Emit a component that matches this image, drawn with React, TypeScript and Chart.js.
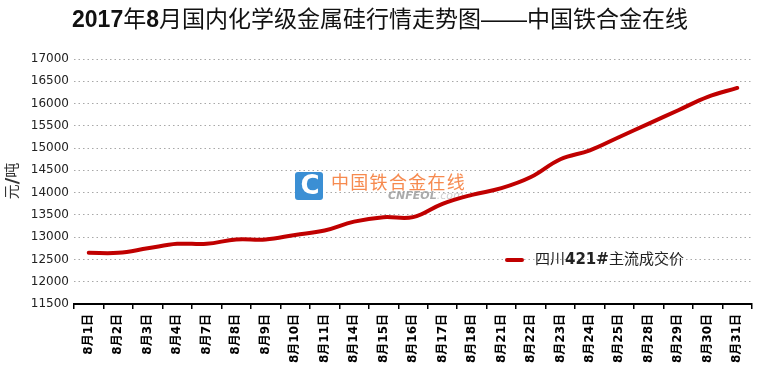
import React, { useEffect, useRef } from "react";
import { Chart, registerables } from "chart.js";

Chart.register(...registerables);

const categories = [
  "8月1日", "8月2日", "8月3日", "8月4日", "8月7日", "8月8日", "8月9日", "8月10日",
  "8月11日", "8月14日", "8月15日", "8月16日", "8月17日", "8月18日", "8月21日", "8月22日",
  "8月23日", "8月24日", "8月25日", "8月28日", "8月29日", "8月30日", "8月31日",
];
const seriesName = "四川421#主流成交价";
const prices = [
  12650, 12650, 12750, 12850, 12850, 12950, 12950, 13050,
  13150, 13350, 13450, 13450, 13750, 13950, 14100, 14350,
  14750, 14950, 15250, 15550, 15850, 16150, 16350,
];
const yMin = 11500;
const yMax = 17000;
const yStep = 500;

const titleParts: { t: string; bold: boolean }[] = [
  { t: "2017", bold: true },
  { t: "年", bold: false },
  { t: "8", bold: true },
  { t: "月国内化学级金属硅行情走势图——中国铁合金在线", bold: false },
];
const yTitleParts: { t: string; bold: boolean; size: number }[] = [
  { t: "元", bold: false, size: 15 },
  { t: "/", bold: true, size: 18 },
  { t: "吨", bold: false, size: 15 },
];
const legendParts: { t: string; bold: boolean }[] = [
  { t: "四川", bold: false },
  { t: "421#", bold: true },
  { t: "主流成交价", bold: false },
];

const LINE_COLOR = "#c00000";
const SANS = "'DejaVu Sans', 'Noto Sans CJK SC', sans-serif";
const TITLE_FONT = "'Liberation Sans', 'Noto Sans CJK SC', sans-serif";

function drawParts(
  ctx: CanvasRenderingContext2D,
  parts: { t: string; bold: boolean; size?: number }[],
  size: number,
  family: string,
  x: number,
  y: number,
  align: "left" | "center"
) {
  const fontOf = (p: { bold: boolean; size?: number }) =>
    `${p.bold ? "bold " : ""}${p.size || size}px ${family}`;
  const widths = parts.map((p) => {
    ctx.font = fontOf(p);
    return ctx.measureText(p.t).width;
  });
  const total = widths.reduce((a, b) => a + b, 0);
  let cx = align === "center" ? x - total / 2 : x;
  ctx.textAlign = "left";
  ctx.textBaseline = "middle";
  parts.forEach((p, i) => {
    ctx.font = fontOf(p);
    ctx.fillText(p.t, cx, y);
    cx += widths[i];
  });
}

const decorPlugin = {
  id: "decor",
  beforeDatasetsDraw(chart: any) {
    const ctx: CanvasRenderingContext2D = chart.ctx;
    ctx.save();
    // watermark logo
    ctx.fillStyle = "#3b8fd4";
    const bx = 295, by = 172, bw = 28, bh = 28, r = 3;
    ctx.beginPath();
    ctx.moveTo(bx + r, by);
    ctx.lineTo(bx + bw - r, by);
    ctx.quadraticCurveTo(bx + bw, by, bx + bw, by + r);
    ctx.lineTo(bx + bw, by + bh - r);
    ctx.quadraticCurveTo(bx + bw, by + bh, bx + bw - r, by + bh);
    ctx.lineTo(bx + r, by + bh);
    ctx.quadraticCurveTo(bx, by + bh, bx, by + bh - r);
    ctx.lineTo(bx, by + r);
    ctx.quadraticCurveTo(bx, by, bx + r, by);
    ctx.fill();
    ctx.fillStyle = "#ffffff";
    ctx.font = "bold 26px 'DejaVu Sans', sans-serif";
    ctx.textAlign = "center";
    ctx.textBaseline = "middle";
    ctx.fillText("C", bx + bw / 2 + 1, by + bh / 2 + 1);
    // watermark text
    ctx.fillStyle = "rgba(245,125,60,0.9)";
    ctx.font = "18px 'Noto Sans CJK SC', sans-serif";
    ctx.textAlign = "left";
    const wm = "中国铁合金在线";
    let wx = 331;
    for (const ch of wm) {
      ctx.fillText(ch, wx, 182);
      wx += 19.3;
    }
    ctx.fillStyle = "rgba(150,150,150,0.8)";
    ctx.font = "italic bold 11px 'DejaVu Sans', sans-serif";
    ctx.fillText("CNFEOL", 388, 196);
    const w1 = ctx.measureText("CNFEOL").width;
    ctx.fillStyle = "rgba(190,190,190,0.7)";
    ctx.font = "italic 11px 'DejaVu Sans', sans-serif";
    ctx.fillText(".com", 388 + w1, 196);
    ctx.restore();
  },
  afterDraw(chart: any) {
    const ctx: CanvasRenderingContext2D = chart.ctx;
    ctx.save();
    // title
    ctx.fillStyle = "#111111";
    drawParts(ctx, titleParts, 23, TITLE_FONT, 380, 21, "center");
    // y-axis title (rotated)
    ctx.save();
    ctx.translate(13, 181);
    ctx.rotate(-Math.PI / 2);
    ctx.fillStyle = "#333333";
    drawParts(ctx, yTitleParts, 15, SANS, 0, 0, "center");
    ctx.restore();
    // legend
    ctx.strokeStyle = LINE_COLOR;
    ctx.lineWidth = 4;
    ctx.lineCap = "round";
    ctx.beginPath();
    ctx.moveTo(507, 260);
    ctx.lineTo(522, 260);
    ctx.stroke();
    ctx.fillStyle = "#222222";
    drawParts(ctx, legendParts, 15, SANS, 535, 260, "left");
    ctx.restore();
  },
};

export default function App() {
  const ref = useRef<HTMLCanvasElement | null>(null);
  useEffect(() => {
    if (!ref.current) return;
    const chart = new Chart(ref.current, {
      type: "line",
      data: {
        labels: categories,
        datasets: [
          {
            label: seriesName,
            data: prices,
            borderColor: LINE_COLOR,
            backgroundColor: LINE_COLOR,
            borderWidth: 4,
            borderCapStyle: "round",
            borderJoinStyle: "round",
            pointRadius: 0,
            pointHoverRadius: 0,
            tension: 0.4,
            fill: false,
          },
        ],
      },
      options: {
        responsive: false,
        animation: false,
        devicePixelRatio: 1,
        layout: { padding: { top: 59, right: 8, left: 0, bottom: 0 } },
        plugins: {
          legend: { display: false },
          title: { display: false },
          tooltip: { enabled: false },
        },
        scales: {
          x: {
            type: "category",
            offset: true,
            afterFit: (s: any) => {
              s.height = 69;
            },
            border: { display: true, color: "#000000", width: 2 },
            grid: {
              display: true,
              offset: true,
              drawOnChartArea: false,
              drawTicks: true,
              tickLength: 5,
              color: "#000000",
              lineWidth: 1.5,
            },
            ticks: {
              autoSkip: false,
              minRotation: 90,
              maxRotation: 90,
              padding: 5,
              color: "#000000",
              font: { family: SANS, size: 12, weight: "bold" },
            },
          },
          y: {
            min: yMin,
            max: yMax,
            afterFit: (s: any) => {
              s.width = 74;
            },
            border: { display: false, dash: [1.5, 3] },
            grid: {
              color: "#a8a8a8",
              lineWidth: 1,
              drawTicks: false,
            },
            ticks: {
              stepSize: yStep,
              padding: 5,
              color: "#222222",
              font: { family: SANS, size: 12 },
              callback: (v: any) => String(v),
            },
          },
        },
      },
      plugins: [decorPlugin],
    } as any);
    return () => chart.destroy();
  }, []);
  return (
    <div style={{ position: "absolute", left: 0, top: 0, width: 760, height: 373, background: "#fff" }}>
      <canvas ref={ref} width={760} height={373} />
    </div>
  );
}
